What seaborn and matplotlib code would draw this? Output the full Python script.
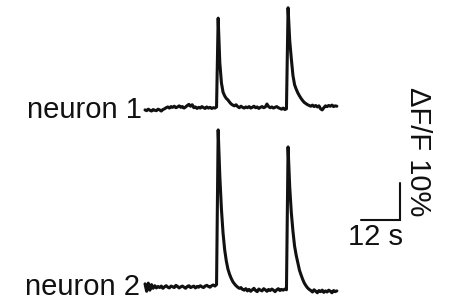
import numpy as np
import pandas as pd
import matplotlib
matplotlib.use("Agg")
import matplotlib.pyplot as plt
import seaborn as sns

# time axis (s), sampled every 0.5 s
time_s = np.arange(0, 59.5, 0.5)

# dF/F (%) traces
neuron1 = [
    -0.8, -1.0, -0.6, -0.9, -1.1, -0.7, -0.9, -1.0, -0.6, -0.8, -1.1, -0.7, -0.5,
    -0.2, 0.0, -0.3, 0.1, -0.1, 0.2, -0.2, 0.0, 0.3, -0.1, 0.1, -0.3, 0.0, 0.4,
    0.7, 0.2, 0.6,
    -0.2, 0.0, -0.4, -0.1, -0.3, 0.1, -0.2, -0.4, 0.0, -0.3, -0.1, -0.4, -0.2, -0.3, 0.0,
    24.0,
    12.0, 6.5, 4.0, 3.0, 2.3, 1.9, 1.3, 0.8, 0.5, 0.3, 0.6, 0.1, -0.2, 0.2, -0.1,
    -0.3, 0.0, -0.2, 0.1, -0.3, -0.1, 0.2, -0.2, 0.0, -0.4, -0.1, 0.1, -0.2, 0.0,
    0.8,
    0.1, -0.2, 0.0, -0.3, -0.1, 0.1, -0.2, -0.4, -0.6, -0.3, -0.7, -0.5,
    26.8,
    18.0, 13.0, 8.5, 6.0, 4.8, 3.8, 3.0, 2.3, 1.7, 1.2, 0.9, 0.6, 0.4,
    0.2, 0.5, 0.1, 0.4, 0.0, 0.3, -0.5, -0.8, -0.2, 0.3, 0.1, 0.4, 0.2, 0.5, 0.1, 0.3, 0.2,
]

neuron2 = [
    0.8, -1.2, 1.0, -0.9, 0.6, -0.4, 0.3,
    -0.3, 0.1, -0.2, 0.2, -0.4, 0.0, 0.3, -0.1, -0.3, 0.2,
    0.0, -0.2, 0.4, 0.1, -0.3, 0.0, 0.2, -0.1, -0.4, 0.1,
    0.3, -0.2, 0.0, 0.2, -0.3, 0.1, -0.1, 0.3, 0.0, -0.2,
    0.2, 0.4, 0.1, -0.1, 0.3, 0.5, 0.2, 0.6,
    42.4,
    30.0, 21.0, 14.5, 10.0, 7.0, 4.8, 3.4, 2.3, 1.4, 0.8, 0.3, -0.1, -0.4, -0.2, -0.7,
    -0.9, -0.5, -1.1, -0.7, -1.2, -0.8, -0.4, -1.0, -1.3, -0.6,
    -0.9, -1.1, -0.5, -0.8, -1.2, -0.7, -1.0, -0.6, -0.9, -1.3,
    -0.8, -0.5, -1.0, -0.7, -0.9, -0.6, -0.8,
    37.8,
    27.0, 20.0, 15.0, 11.0, 8.5, 6.5, 4.5, 3.2, 2.0, 1.0, 0.3, -0.3, -0.7,
    -1.0, -1.4, -0.8, -1.2, -1.6, -1.0, -1.3, -0.9, -1.5, -1.1, -1.4, -0.9, -1.2, -1.6,
    -1.0, -1.3, -1.1,
]

labels = ["neuron 1", "neuron 2"]
scale_time = 12      # s
scale_dff = 10       # %


def main():
    sns.set_theme(style="white")
    plt.rcParams["font.family"] = ["Liberation Sans", "DejaVu Sans"]
    plt.rcParams["text.color"] = "#111111"

    offsets = [0.0, -48.6]
    df = pd.concat([
        pd.DataFrame({"t": time_s, "dff": np.array(v) + off, "cell": lab})
        for v, off, lab in zip([neuron1, neuron2], offsets, labels)
    ])

    fig = plt.figure(figsize=(4.5, 3.02), dpi=100)
    ax = fig.add_axes([0, 0, 1, 1])

    sns.lineplot(data=df, x="t", y="dff", units="cell", estimator=None,
                 color="#111111", lw=2.2, ax=ax, legend=False)

    # trace labels
    ax.text(-1.0, -3.0, labels[0], ha="right", va="baseline", fontsize=21)
    ax.text(-1.5, offsets[1] - 2.2, labels[1], ha="right", va="baseline", fontsize=21)

    # scale bar
    x0, y0 = 78.5, -30.5
    ax.plot([x0 - scale_time, x0, x0], [y0, y0, y0 + scale_dff],
            color="#111111", lw=1.5, solid_joinstyle="miter")
    ax.text(x0 - scale_time / 2 - 1.5, y0 - 6.8, f"{scale_time} s",
            ha="center", va="baseline", fontsize=21)
    ax.text(84.0, -12.2, f"ΔF/F {scale_dff}%", rotation=270,
            ha="center", va="center", fontsize=21)

    ax.set_xlim(-44.6, 93.8)
    ax.set_ylim(-52.7, 28.9)
    ax.axis("off")

    fig.savefig("out.png", dpi=100, facecolor="white")


if __name__ == "__main__":
    main()
